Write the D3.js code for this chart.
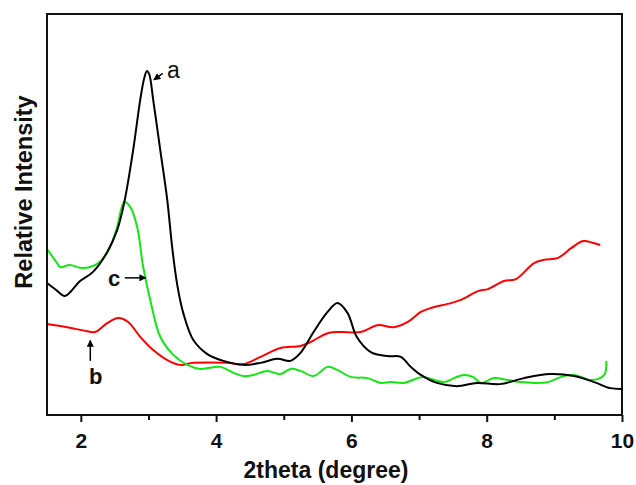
<!DOCTYPE html>
<html>
<head>
<meta charset="utf-8">
<script src="https://cdn.jsdelivr.net/npm/d3@7"></script>
<style>
  body { margin: 0; background: #fff; }
  text { font-family: Arial, "Liberation Sans", sans-serif; }
</style>
</head>
<body>
<svg id="chart"></svg>
<script>
// x ticks (2theta) and the three XRD traces
var majorTicks = [2, 4, 6, 8, 10];
var minorTicks = [3, 5, 7, 9];

var theta_a = [1.50, 1.633, 1.767, 1.989, 2.181, 2.389, 2.537, 2.641, 2.774, 2.878, 2.937, 2.977, 3.011, 3.070, 3.174, 3.278, 3.352, 3.426, 3.515, 3.663, 3.870, 4.107, 4.404, 4.656, 4.907, 5.100, 5.248, 5.441, 5.648, 5.796, 5.944, 6.078, 6.285, 6.537, 6.730, 6.878, 7.026, 7.263, 7.559, 7.856, 8.196, 8.552, 8.937, 9.293, 9.589, 9.826, 10.0];
var int_a = [32.9, 31.2, 29.7, 33.4, 35.7, 40.6, 46.1, 52.9, 66.1, 78.6, 84.0, 85.8, 85.0, 78.6, 66.1, 53.6, 41.6, 32.4, 25.4, 18.7, 15.2, 13.5, 12.5, 13.0, 14.0, 13.5, 15.5, 20.7, 25.7, 27.9, 25.4, 19.5, 15.7, 14.7, 14.5, 12.0, 10.0, 8.0, 7.2, 8.0, 7.7, 9.2, 10.2, 9.7, 8.2, 6.7, 6.5];

var theta_b = [1.50, 1.796, 2.093, 2.211, 2.389, 2.552, 2.700, 2.878, 3.070, 3.278, 3.470, 3.663, 4.167, 4.404, 4.656, 4.952, 5.248, 5.396, 5.648, 5.841, 6.137, 6.389, 6.626, 6.833, 7.026, 7.174, 7.470, 7.619, 7.870, 8.019, 8.256, 8.433, 8.700, 8.848, 9.056, 9.248, 9.426, 9.574, 9.678];
var int_b = [22.7, 21.9, 20.9, 20.7, 22.9, 24.2, 23.2, 19.5, 16.2, 13.7, 12.5, 13.0, 13.0, 12.7, 14.5, 16.7, 17.2, 18.2, 20.4, 20.7, 20.7, 22.4, 21.9, 23.2, 25.7, 26.7, 27.9, 28.7, 30.9, 31.4, 33.4, 33.9, 37.9, 38.7, 39.2, 41.6, 43.4, 42.9, 42.4];

var theta_c = [1.50, 1.648, 1.693, 1.841, 1.989, 2.137, 2.285, 2.433, 2.537, 2.641, 2.730, 2.833, 2.922, 3.026, 3.174, 3.367, 3.574, 3.767, 4.063, 4.256, 4.404, 4.552, 4.759, 4.952, 5.100, 5.248, 5.441, 5.648, 5.796, 5.989, 6.241, 6.433, 6.581, 6.774, 6.981, 7.070, 7.367, 7.515, 7.663, 7.796, 7.915, 8.107, 8.315, 8.507, 8.700, 8.907, 9.100, 9.293, 9.544, 9.737, 9.767];
var int_c = [41.4, 37.9, 36.9, 37.4, 36.7, 36.9, 38.2, 41.9, 46.9, 53.1, 51.9, 46.9, 36.9, 28.7, 19.5, 15.0, 12.5, 11.5, 12.0, 10.5, 9.7, 10.0, 11.0, 10.2, 11.5, 11.0, 9.7, 12.0, 11.2, 9.5, 9.2, 8.0, 8.2, 8.0, 9.2, 9.5, 8.2, 9.2, 10.0, 9.5, 8.0, 9.2, 8.7, 8.2, 8.0, 8.2, 9.5, 10.0, 8.7, 10.0, 13.5];

var width = 636, height = 485;
var svg = d3.select("#chart").attr("width", width).attr("height", height);

var x = d3.scaleLinear().domain([1.5, 10]).range([47, 622]);
var y = d3.scaleLinear().domain([0, 100]).range([415, 14]);

var line = d3.line()
    .x(d => x(d[0]))
    .y(d => y(d[1]))
    .curve(d3.curveCatmullRom);

var series = [
  { xs: theta_b, ys: int_b, color: "#ff0000" },
  { xs: theta_c, ys: int_c, color: "#14e614" },
  { xs: theta_a, ys: int_a, color: "#000000" }
];

series.forEach(s => {
  svg.append("path")
      .datum(d3.zip(s.xs, s.ys))
      .attr("fill", "none")
      .attr("stroke", s.color)
      .attr("stroke-width", 2)
      .attr("d", line);
});

// frame
svg.append("rect")
    .attr("x", 47).attr("y", 14)
    .attr("width", 575).attr("height", 401)
    .attr("fill", "none")
    .attr("stroke", "#111")
    .attr("stroke-width", 2);

// x axis, major then minor ticks
var xAxis = svg.append("g")
    .attr("transform", "translate(0,415)")
    .call(d3.axisBottom(x).tickValues(majorTicks).tickSize(7).tickPadding(11).tickFormat(d3.format("d")));
xAxis.select(".domain").remove();
xAxis.selectAll("line").attr("stroke", "#111").attr("stroke-width", 2);
xAxis.selectAll("text")
    .attr("font-size", 21).attr("font-weight", "bold").attr("fill", "#111")
    .attr("font-family", "Arial, 'Liberation Sans', sans-serif");

svg.append("g")
    .attr("transform", "translate(0,415)")
    .call(d3.axisBottom(x).tickValues(minorTicks).tickSize(5).tickFormat(""))
    .call(g => g.select(".domain").remove())
    .selectAll("line").attr("stroke", "#111").attr("stroke-width", 2);

// axis titles
svg.append("text")
    .attr("x", 326).attr("y", 478)
    .attr("text-anchor", "middle")
    .attr("font-size", 23).attr("font-weight", "bold").attr("fill", "#111")
    .text("2theta (degree)");

svg.append("text")
    .attr("transform", "translate(32,192) rotate(-90)")
    .attr("text-anchor", "middle")
    .attr("font-size", 23.5).attr("font-weight", "bold").attr("fill", "#111")
    .text("Relative Intensity");

// curve labels with arrows
svg.append("defs").append("marker")
    .attr("id", "head")
    .attr("viewBox", "0 0 10 10")
    .attr("refX", 9).attr("refY", 5)
    .attr("markerUnits", "userSpaceOnUse")
    .attr("markerWidth", 8).attr("markerHeight", 7)
    .attr("orient", "auto")
  .append("path")
    .attr("d", "M0,0L10,5L0,10z")
    .attr("fill", "#000");

function arrow(x1, y1, x2, y2) {
  svg.append("line")
      .attr("x1", x1).attr("y1", y1).attr("x2", x2).attr("y2", y2)
      .attr("stroke", "#000").attr("stroke-width", 1.5)
      .attr("marker-end", "url(#head)");
}

arrow(x(3.21), y(85.2), x(3.08), y(83.6));
svg.append("text").attr("x", 167).attr("y", 78)
    .attr("font-size", 23).attr("fill", "#111").text("a");

arrow(x(2.65), y(34.2), x(2.96), y(34.2));
svg.append("text").attr("x", 108).attr("y", 286)
    .attr("font-size", 22).attr("font-weight", "bold").attr("fill", "#111").text("c");

arrow(x(2.14), y(13.5), x(2.14), y(18.6));
svg.append("text").attr("x", 89).attr("y", 384)
    .attr("font-size", 22).attr("font-weight", "bold").attr("fill", "#111").text("b");
</script>
</body>
</html>
